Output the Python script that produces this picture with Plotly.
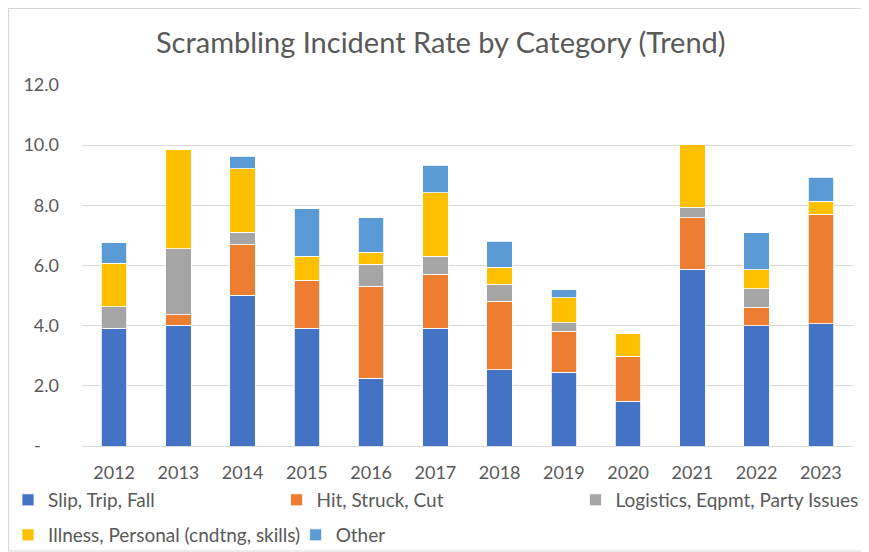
import plotly.graph_objects as go

years = ["2012", "2013", "2014", "2015", "2016", "2017", "2018", "2019", "2020", "2021", "2022", "2023"]

slip_trip_fall = [3.92, 4.01, 5.01, 3.92, 2.26, 3.92, 2.54, 2.46, 1.49, 5.87, 3.99, 4.06]
hit_struck_cut = [0.00, 0.36, 1.68, 1.59, 3.05, 1.79, 2.28, 1.36, 1.50, 1.71, 0.63, 3.64]
logistics = [0.71, 2.19, 0.42, 0.00, 0.73, 0.60, 0.55, 0.28, 0.00, 0.36, 0.61, 0.00]
illness = [1.44, 3.31, 2.10, 0.79, 0.40, 2.11, 0.57, 0.83, 0.75, 2.08, 0.63, 0.43]
other = [0.69, 0.00, 0.42, 1.59, 1.14, 0.91, 0.86, 0.27, 0.00, 0.00, 1.23, 0.80]

# name, values, colour, legend slot
series = [
    ("Slip, Trip, Fall", slip_trip_fall, "#4472C4", "legend"),
    ("Hit, Struck, Cut", hit_struck_cut, "#ED7D31", "legend2"),
    ("Logistics, Eqpmt, Party Issues", logistics, "#A5A5A5", "legend3"),
    ("Illness, Personal (cndtng, skills)", illness, "#FFC000", "legend4"),
    ("Other", other, "#5B9BD5", "legend5"),
]

y_ticks = [0, 2, 4, 6, 8, 10, 12]
y_labels = ["-    ", "2.0", "4.0", "6.0", "8.0", "10.0", "12.0"]

font = "Lato, 'Noto Sans', sans-serif"
grey_text = "#595959"

fig = go.Figure()
for name, vals, col, leg in series:
    fig.add_trace(go.Bar(x=years, y=vals, name=name, legend=leg,
                         marker=dict(color=col, line=dict(color="white", width=0.8))))

# one legend box per entry so the rows sit like the Excel legend
def legend_box(x, y):
    return dict(orientation="h", xref="container", yref="container",
                x=x, xanchor="left", y=y, yanchor="middle",
                font=dict(family=font, size=19, color=grey_text),
                bgcolor="rgba(0,0,0,0)", itemwidth=30)

fig.update_layout(
    barmode="stack",
    bargap=0.6,
    width=869, height=552,
    margin=dict(l=74, r=24, t=77, b=114, autoexpand=False),
    paper_bgcolor="white",
    plot_bgcolor="white",
    font=dict(family=font, size=18, color=grey_text),
    title=dict(text="Scrambling Incident Rate by Category (Trend)",
               x=0.498, xanchor="center", xref="container",
               y=0.9366, yanchor="middle", yref="container",
               font=dict(family=font, size=29, color=grey_text)),
    showlegend=True,
    legend=legend_box(-0.007, 0.1087),
    legend2=legend_box(0.309, 0.1087),
    legend3=legend_box(0.653, 0.1087),
    legend4=legend_box(-0.007, 0.0453),
    legend5=legend_box(0.331, 0.0453),
)
fig.update_yaxes(range=[0, 12], tickvals=y_ticks, ticktext=y_labels,
                 showgrid=True, gridcolor="#D9D9D9", gridwidth=1.3,
                 zeroline=False, showline=False, ticks="", ticklabelstandoff=22)
fig.update_xaxes(showgrid=False, showline=True, linecolor="#D9D9D9", linewidth=1.3,
                 ticks="", ticklabelstandoff=10)

fig.add_shape(type="rect", xref="paper", yref="paper",
              x0=-0.0953, x1=1.05, y0=-0.2909, y1=1.2119,
              line=dict(color="#D9D9D9", width=1.2), fillcolor="rgba(0,0,0,0)", layer="below")

fig.write_html("out.html")
